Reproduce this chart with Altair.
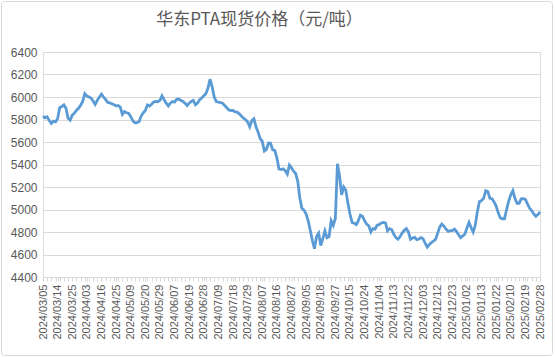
import altair as alt
import pandas as pd

title_text = "华东PTA现货价格（元/吨）"

tick_labels = [
    "2024/03/05", "2024/03/14", "2024/03/25", "2024/04/03", "2024/04/16", "2024/04/25",
    "2024/05/09", "2024/05/20", "2024/05/29", "2024/06/07", "2024/06/19", "2024/06/28",
    "2024/07/09", "2024/07/18", "2024/07/29", "2024/08/07", "2024/08/16", "2024/08/27",
    "2024/09/05", "2024/09/18", "2024/09/27", "2024/10/15", "2024/10/24", "2024/11/04",
    "2024/11/13", "2024/11/22", "2024/12/03", "2024/12/12", "2024/12/23", "2025/01/02",
    "2025/01/13", "2025/01/22", "2025/02/10", "2025/02/19", "2025/02/28",
]
label_step = 7

prices = [
    5830, 5815, 5824, 5790, 5764, 5785, 5779, 5809, 5905, 5915,
    5930, 5900, 5810, 5794, 5839, 5855, 5880, 5900, 5925, 5960,
    6030, 6010, 6000, 5990, 5965, 5935, 5970, 6000, 6025, 6000,
    5976, 5952, 5948, 5940, 5932, 5920, 5925, 5910, 5845, 5870,
    5860, 5855, 5825, 5790, 5770, 5772, 5780, 5830, 5860, 5880,
    5930, 5920, 5935, 5955, 5960, 5958, 5970, 6010, 5976, 5945,
    5921, 5945, 5960, 5955, 5980, 5982, 5970, 5961, 5945, 5924,
    5945, 5961, 5970, 5930, 5945, 5976, 5991, 6012, 6030, 6080,
    6158, 6090, 6000, 5960, 5955, 5950, 5945, 5925, 5905, 5885,
    5880, 5880, 5868, 5865, 5850, 5830, 5812, 5800, 5778, 5735,
    5790, 5806, 5735, 5688, 5630, 5605, 5520, 5535, 5590, 5588,
    5530, 5525, 5460, 5360, 5355, 5362, 5345, 5315, 5395, 5370,
    5340, 5320, 5250, 5100, 5010, 4995, 4960, 4900, 4814, 4726,
    4652, 4760, 4790, 4680, 4740, 4810, 4750, 4760, 4900, 4860,
    4920, 5406, 5300, 5130, 5200, 5170, 5060, 4960, 4885, 4878,
    4865, 4900, 4950, 4940, 4900, 4870, 4855, 4800, 4830, 4825,
    4860, 4865, 4880, 4885, 4880, 4810, 4830, 4820, 4780, 4750,
    4735, 4760, 4790, 4815, 4830, 4800, 4735, 4747, 4753, 4732,
    4738, 4750, 4740, 4700, 4665, 4690, 4705, 4720, 4735, 4790,
    4845, 4870, 4852, 4825, 4806, 4812, 4812, 4825, 4805, 4775,
    4750, 4765, 4780, 4835, 4886, 4840, 4800, 4860, 4980, 5070,
    5079, 5100, 5167, 5160, 5100, 5096, 5067, 5030, 4970, 4925,
    4918, 4918, 5000, 5075, 5130, 5167, 5100, 5055, 5055, 5095,
    5096, 5090, 5050, 5013, 4990, 4960, 4940, 4955, 4978,
]

y_ticks = list(range(4400, 6401, 200))

df = pd.DataFrame({"i": list(range(len(prices))), "price": prices})
n = len(prices)

tick_vals = sorted(set(range(0, n, 2)) | set(range(0, n, label_step)))
label_arr = "[" + ",".join("'" + s + "'" for s in tick_labels) + "]"
label_expr = f"datum.value % {label_step} == 0 ? {label_arr}[datum.value / {label_step}] : ''"

W, H = 497, 225
PL, PT, PR, PB = 43, 52, 15, 80

line = alt.Chart(df).mark_line(color="#5B9BD5", strokeWidth=2.8).encode(
    x=alt.X(
        "i:Q",
        scale=alt.Scale(domain=[0, n - 1], nice=False, zero=False),
        axis=alt.Axis(
            values=tick_vals,
            labelExpr=label_expr,
            labelAngle=-90,
            labelOverlap=False,
            labelFontSize=11,
            labelFont="Liberation Sans",
            labelColor="#595959",
            labelPadding=3,
            tickColor="#d9d9d9",
            tickSize=4,
            domainColor="#d9d9d9",
            grid=False,
            title=None,
        ),
    ),
    y=alt.Y(
        "price:Q",
        scale=alt.Scale(domain=[4400, 6400], nice=False, zero=False),
        axis=alt.Axis(
            values=y_ticks,
            format="d",
            labelFontSize=12,
            labelFont="Liberation Sans",
            labelColor="#595959",
            labelPadding=6,
            ticks=False,
            domain=False,
            gridColor="#d9d9d9",
            gridWidth=1,
            title=None,
        ),
    ),
)

border = alt.Chart(alt.Data(values=[{"a": 1}])).mark_rect(
    fill=None, stroke="#d9d9d9", strokeWidth=1, clip=False, cornerRadius=3
).encode(
    x=alt.value(-PL + 1.5),
    x2=alt.value(W + PR - 2.5),
    y=alt.value(-PT + 1.5),
    y2=alt.value(H + PB - 1.5),
)

chart = alt.layer(border, line).properties(
    width=W,
    height=H,
    autosize=alt.AutoSizeParams(type="none"),
    padding={"left": PL, "top": PT, "right": PR, "bottom": PB},
    title=alt.TitleParams(
        title_text,
        font="Noto Sans CJK SC",
        fontSize=17,
        fontWeight="normal",
        color="#595959",
        anchor="middle",
        frame="group",
        dx=-32,
        offset=0,
        dy=28,
    ),
).configure_view(stroke=None).configure(background="white")

chart.save("out.html", embed_options={"renderer": "svg", "actions": False})
